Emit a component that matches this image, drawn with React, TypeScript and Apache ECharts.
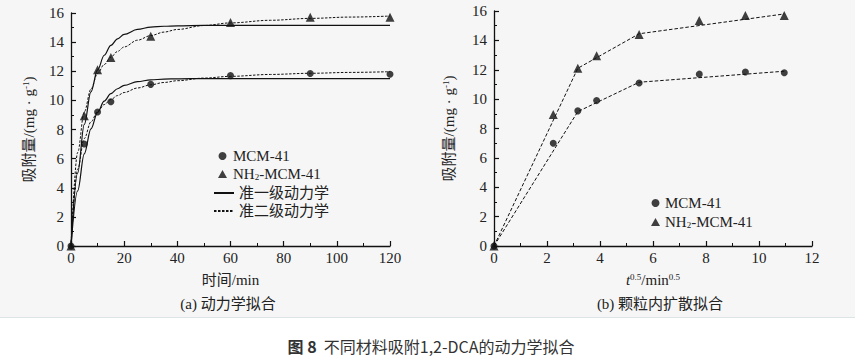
import React, { useEffect, useRef } from "react";
import * as echarts from "echarts";

// Measured adsorption data (t in min, q in mg/g)
const timeMin = [0, 5, 10, 15, 30, 60, 90, 120];
const qMCM = [0, 7.0, 9.2, 9.9, 11.1, 11.7, 11.85, 11.8];
const qNH2 = [0, 8.95, 12.1, 12.95, 14.4, 15.35, 15.7, 15.7];
// t^0.5 for panel (b)
const sqrtTime = [0, 2.236, 3.162, 3.873, 5.477, 7.746, 9.487, 10.954];

// Fitted curves
const fitTime = [0, 2.5, 5, 7.5, 10, 12.5, 15, 17.5, 20, 25, 30, 35, 40, 50, 60, 75, 90, 105, 120];
const pfoMCM = [0, 3.79, 6.33, 8.04, 9.18, 9.95, 10.46, 10.8, 11.03, 11.29, 11.41, 11.46, 11.48, 11.5, 11.5, 11.5, 11.5, 11.5, 11.5];
const pfoNH2 = [0, 5.0, 8.35, 10.59, 12.09, 13.1, 13.78, 14.23, 14.53, 14.87, 15.03, 15.09, 15.12, 15.15, 15.15, 15.15, 15.15, 15.15, 15.15];
const psoMCM = [0, 5.27, 7.38, 8.52, 9.23, 9.71, 10.06, 10.33, 10.54, 10.85, 11.07, 11.23, 11.35, 11.53, 11.65, 11.78, 11.86, 11.92, 11.97];
const psoNH2 = [0, 6.42, 9.21, 10.77, 11.85, 12.46, 12.97, 13.36, 13.67, 14.13, 14.45, 14.69, 14.87, 15.14, 15.32, 15.5, 15.63, 15.72, 15.79];

// Intraparticle diffusion piecewise fits
const ipdX = [0, 3.162, 5.477, 10.954];
const ipdMCM = [0, 9.15, 11.15, 11.9];
const ipdNH2 = [0, 12.1, 14.45, 15.8];

// Axis ticks
const timeTicks = { min: 0, max: 120, interval: 20 };
const sqrtTicks = { min: 0, max: 12, interval: 2 };
const qTicks = { min: 0, max: 16, interval: 2 };

const SERIF = "'Liberation Serif', 'Noto Sans CJK SC', serif";
const TXT = "#222";
const INK = "#111";

const zip = (xs: number[], ys: number[]) => xs.map((x, i) => [x, ys[i]]);

const supRich = {
  sup: { fontSize: 9, fontFamily: SERIF, color: TXT, verticalAlign: "top", lineHeight: 10 },
  it: { fontSize: 15, fontFamily: SERIF, color: TXT, fontStyle: "italic", lineHeight: 16 },
  n: { fontSize: 15, fontFamily: SERIF, color: TXT, lineHeight: 16 },
};

function axisCommon() {
  return {
    axisLine: { show: true, lineStyle: { color: INK, width: 1.3 } },
    axisTick: { show: true, inside: true, length: 5, lineStyle: { color: INK, width: 1.2 } },
    minorTick: { show: true, splitNumber: 2, length: 3, lineStyle: { color: INK, width: 1 } },
    splitLine: { show: false },
    axisLabel: { fontSize: 15, fontFamily: SERIF, color: TXT },
  };
}

function fitLine(name: string, xs: number[], ys: number[], dashed: boolean) {
  return {
    name,
    type: "line",
    xAxisIndex: 0,
    yAxisIndex: 0,
    symbol: "none",
    showSymbol: false,
    smooth: 0.35,
    smoothMonotone: "x",
    color: INK,
    lineStyle: dashed ? { color: INK, width: 1, type: [2.5, 1.5] } : { color: INK, width: 1.2, type: "solid" },
    data: zip(xs, ys),
  };
}

export default function App() {
  const ref = useRef<HTMLDivElement>(null);

  useEffect(() => {
    if (!ref.current) return;
    const chart = echarts.init(ref.current, undefined, { renderer: "svg" });

    const legendFormatter = (name: string) =>
      name === "NH2-MCM-41" ? "{n|NH}{sub|2}{n|-MCM-41}" : "{n|" + name + "}";
    const legendText = {
      fontSize: 15,
      fontFamily: SERIF,
      color: TXT,
      lineHeight: 16,
      rich: {
        n: { fontSize: 15, fontFamily: SERIF, color: TXT, lineHeight: 16 },
        sub: { fontSize: 9, fontFamily: SERIF, color: TXT, verticalAlign: "bottom", lineHeight: 12 },
      },
    };

    const option: any = {
      animation: false,
      backgroundColor: "transparent",
      grid: [
        { left: 71, top: 13, width: 319, height: 233 },
        { left: 494, top: 11, width: 318, height: 235 },
      ],
      xAxis: [
        {
          type: "value",
          gridIndex: 0,
          ...timeTicks,
          ...axisCommon(),
          axisLabel: { ...axisCommon().axisLabel, margin: 4 },
          name: "{n|时间/min}",
          nameLocation: "middle",
          nameGap: 26,
          nameTextStyle: { rich: supRich },
        },
        {
          type: "value",
          gridIndex: 1,
          ...sqrtTicks,
          ...axisCommon(),
          axisLabel: { ...axisCommon().axisLabel, margin: 4 },
          name: "{it|t}{sup|0.5}{n|/min}{sup|0.5}",
          nameLocation: "middle",
          nameGap: 26,
          nameTextStyle: { rich: supRich },
        },
      ],
      yAxis: [
        {
          type: "value",
          gridIndex: 0,
          ...qTicks,
          ...axisCommon(),
          axisLabel: { ...axisCommon().axisLabel, margin: 7 },
          name: "{n|吸附量/(mg · g}{sup|-1}{n|)}",
          nameLocation: "middle",
          nameRotate: 90,
          nameGap: 34,
          nameTextStyle: { rich: supRich },
        },
        {
          type: "value",
          gridIndex: 1,
          ...qTicks,
          ...axisCommon(),
          axisLabel: { ...axisCommon().axisLabel, margin: 7 },
          name: "{n|吸附量/(mg · g}{sup|-1}{n|)}",
          nameLocation: "middle",
          nameRotate: 90,
          nameGap: 37,
          nameTextStyle: { rich: supRich },
        },
      ],
      legend: [
        {
          data: [
            { name: "MCM-41", icon: "circle" },
            { name: "NH2-MCM-41", icon: "triangle" },
          ],
          orient: "vertical",
          left: 213,
          top: 143,
          itemWidth: 9,
          itemHeight: 8,
          itemGap: 2,
          selectedMode: false,
          formatter: legendFormatter,
          textStyle: { ...legendText, padding: [0, 0, 0, 1] },
        },
        {
          data: ["准一级动力学", "准二级动力学"],
          orient: "vertical",
          left: 208,
          top: 180,
          itemWidth: 20,
          itemHeight: 8,
          itemGap: 2,
          selectedMode: false,
          itemStyle: { opacity: 0 },
          formatter: legendFormatter,
          textStyle: legendText,
        },
        {
          data: [
            { name: "MCM-41", icon: "circle" },
            { name: "NH2-MCM-41", icon: "triangle" },
          ],
          orient: "vertical",
          left: 646,
          top: 190,
          itemWidth: 9,
          itemHeight: 8,
          itemGap: 3,
          selectedMode: false,
          formatter: legendFormatter,
          textStyle: legendText,
        },
      ],
      series: [
        {
          name: "MCM-41",
          type: "scatter",
          xAxisIndex: 0,
          yAxisIndex: 0,
          symbol: "circle",
          symbolSize: 7,
          itemStyle: { color: INK },
          z: 5,
          data: zip(timeMin, qMCM),
        },
        {
          name: "NH2-MCM-41",
          type: "scatter",
          xAxisIndex: 0,
          yAxisIndex: 0,
          symbol: "triangle",
          symbolSize: 9,
          itemStyle: { color: INK },
          z: 5,
          data: zip(timeMin, qNH2),
        },
        fitLine("准一级动力学", fitTime, pfoMCM, false),
        fitLine("准一级动力学", fitTime, pfoNH2, false),
        fitLine("准二级动力学", fitTime, psoMCM, true),
        fitLine("准二级动力学", fitTime, psoNH2, true),
        {
          name: "MCM-41",
          type: "scatter",
          xAxisIndex: 1,
          yAxisIndex: 1,
          symbol: "circle",
          symbolSize: 7,
          itemStyle: { color: INK },
          z: 5,
          data: zip(sqrtTime, qMCM),
        },
        {
          name: "NH2-MCM-41",
          type: "scatter",
          xAxisIndex: 1,
          yAxisIndex: 1,
          symbol: "triangle",
          symbolSize: 9,
          itemStyle: { color: INK },
          z: 5,
          data: zip(sqrtTime, qNH2),
        },
        {
          name: "MCM-41 颗粒内扩散",
          type: "line",
          xAxisIndex: 1,
          yAxisIndex: 1,
          symbol: "none",
          color: INK,
          lineStyle: { color: INK, width: 1, type: [3.5, 2] },
          data: zip(ipdX, ipdMCM),
        },
        {
          name: "NH2-MCM-41 颗粒内扩散",
          type: "line",
          xAxisIndex: 1,
          yAxisIndex: 1,
          symbol: "none",
          color: INK,
          lineStyle: { color: INK, width: 1, type: [3.5, 2] },
          data: zip(ipdX, ipdNH2),
        },
      ],
      graphic: [
        {
          type: "text",
          x: 228,
          y: 304,
          style: {
            text: "(a) 动力学拟合",
            fill: TXT,
            fontSize: 15,
            fontFamily: SERIF,
            align: "center",
            verticalAlign: "middle",
          },
        },
        {
          type: "text",
          x: 660,
          y: 304,
          style: {
            text: "(b) 颗粒内扩散拟合",
            fill: TXT,
            fontSize: 15,
            fontFamily: SERIF,
            align: "center",
            verticalAlign: "middle",
          },
        },
        {
          type: "text",
          x: 431,
          y: 346,
          style: {
            text: "{b|图 8}{n|  不同材料吸附1,2-DCA的动力学拟合}",
            fill: "#333",
            align: "center",
            verticalAlign: "middle",
            rich: {
              b: { fontSize: 16, fontWeight: "bold", fontFamily: "'Noto Sans CJK SC', sans-serif", fill: "#333" },
              n: { fontSize: 16, fontFamily: "'Noto Sans CJK SC', sans-serif", fill: "#333" },
            },
          },
        },
      ],
    };

    chart.setOption(option);
    return () => chart.dispose();
  }, []);

  return (
    <div style={{ position: "absolute", left: 0, top: 0, width: 855, height: 357, background: "#ffffff", overflow: "hidden" }}>
      <div style={{ position: "absolute", left: 0, top: 0, width: 855, height: 317, background: "#f6f6f6", borderBottom: "1px solid #dde4e7" }} />
      <div ref={ref} style={{ position: "absolute", left: 0, top: 0, width: 855, height: 357 }} />
    </div>
  );
}
